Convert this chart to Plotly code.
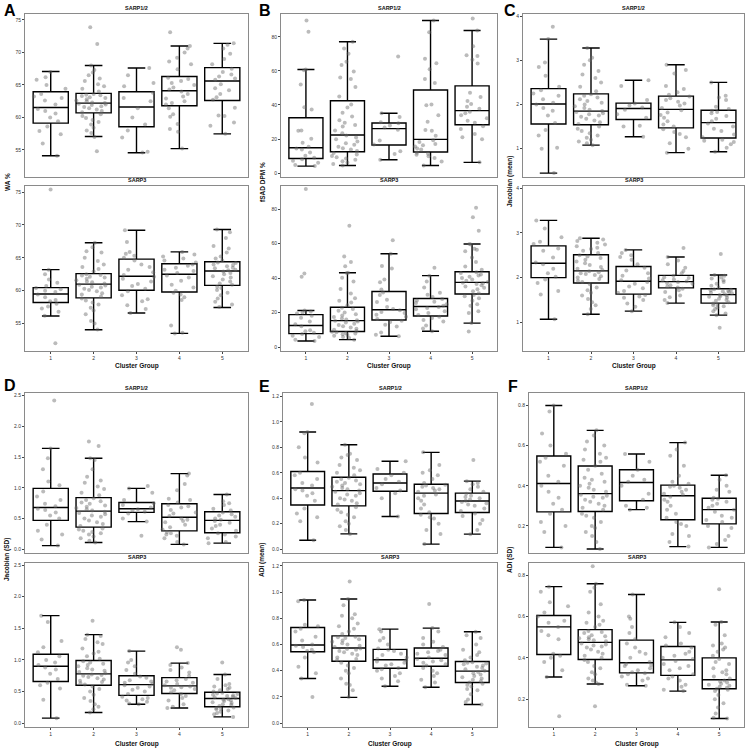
import plotly.graph_objects as go

W, H = 746, 750
groups = [1, 2, 3, 4, 5]
group_labels = ["1", "2", "3", "4", "5"]

# ---------------- Panel A : WA % ----------------
A_top_lo = [54.1, 57.06, 54.55, 55.2, 57.46]
A_top_q1 = [59.12, 60.7, 58.57, 61.8, 62.6]
A_top_med = [61.53, 62.2, 61.6, 64.1, 65.6]
A_top_q3 = [63.94, 63.7, 63.95, 66.3, 67.66]
A_top_hi = [67.06, 68.0, 67.6, 71.0, 71.4]
A_top_pts = [
    [54.1, 56.0, 57.4, 57.9, 58.6, 59.4, 60.0, 60.6, 61.0, 61.3, 62.0, 62.6, 63.0, 63.2, 63.6, 64.4, 65.0, 65.8, 66.2, 67.0],
    [57.0, 57.6, 58.0, 58.4, 58.9, 59.3, 59.6, 59.9, 60.2, 60.5, 60.8, 61.0, 61.2, 61.4, 61.6, 61.7, 61.9, 62.0, 62.1, 62.2,
     62.3, 62.5, 62.6, 62.8, 63.0, 63.1, 63.3, 63.4, 63.5, 63.6, 64.0, 64.4, 64.8, 65.1, 65.6, 66.0, 66.5, 66.9, 67.3, 68.0,
     73.9, 71.3, 54.8],
    [54.6, 54.7, 56.9, 58.0, 58.9, 60.0, 61.4, 62.5, 63.0, 63.8, 64.8, 65.3, 66.5, 67.6],
    [55.2, 57.8, 58.2, 59.0, 60.1, 60.5, 61.4, 62.0, 62.2, 62.5, 62.9, 63.2, 63.6, 64.0, 64.3, 64.6, 65.0, 65.3, 65.6, 65.9,
     66.1, 67.4, 68.2, 68.6, 69.2, 70.0, 70.6, 71.0, 73.1],
    [57.5, 58.7, 59.2, 60.2, 60.3, 61.5, 62.7, 63.1, 63.6, 64.2, 64.5, 65.1, 65.8, 66.0, 66.3, 66.6, 67.0, 67.5, 68.2, 69.0,
     69.8, 70.6, 71.2, 71.4],
]
A_bot_lo = [56.15, 54.05, 56.6, 53.5, 57.45]
A_bot_q1 = [58.2, 58.9, 60.06, 59.8, 60.8]
A_bot_med = [59.5, 61.0, 62.2, 62.5, 63.0]
A_bot_q3 = [60.46, 62.6, 64.8, 64.1, 64.4]
A_bot_hi = [63.2, 67.3, 69.2, 65.9, 69.3]
A_bot_pts = [
    [56.2, 56.8, 57.3, 57.6, 58.0, 58.4, 58.6, 59.0, 59.4, 59.8, 60.0, 60.2, 60.4, 60.7, 61.2, 61.7, 62.5, 63.2, 75.4, 52.0],
    [54.1, 55.0, 55.4, 56.4, 57.0, 57.4, 57.9, 58.2, 58.5, 58.8, 59.1, 59.4, 59.6, 59.9, 60.1, 60.3, 60.5, 60.6, 60.8, 60.9,
     61.1, 61.3, 61.4, 61.6, 61.8, 62.0, 62.1, 62.3, 62.4, 62.5, 62.9, 63.3, 63.6, 64.0, 64.5, 65.0, 65.8, 66.0, 66.6, 67.3],
    [56.6, 57.2, 57.8, 58.4, 58.7, 59.3, 59.9, 60.3, 60.7, 61.0, 61.4, 61.8, 62.1, 62.4, 62.8, 63.2, 63.6, 64.0, 64.6, 65.0,
     65.3, 65.6, 65.9, 67.4, 69.2],
    [53.5, 53.6, 54.7, 58.6, 59.0, 59.4, 59.7, 60.0, 60.5, 60.9, 61.5, 62.0, 62.3, 62.7, 63.0, 63.2, 63.5, 63.8, 64.0, 64.3,
     64.6, 64.9, 65.2, 65.5, 65.9],
    [57.5, 57.9, 58.3, 58.8, 59.3, 59.7, 60.1, 60.4, 60.6, 60.9, 61.1, 61.4, 61.7, 62.0, 62.2, 62.5, 62.7, 62.9, 63.1, 63.2,
     63.4, 63.5, 63.7, 63.9, 64.0, 64.2, 64.3, 64.6, 64.9, 65.2, 65.8, 66.4, 66.8, 68.0, 68.9, 69.3],
]

# ---------------- Panel B : fSAD DPM % ----------------
B_top_lo = [4.1, 4.5, 7.8, 4.5, 6.3]
B_top_q1 = [8.6, 12.5, 16.5, 12.4, 28.4]
B_top_med = [14.9, 22.4, 26.1, 19.8, 36.7]
B_top_q3 = [32.5, 42.5, 29.4, 48.8, 51.2]
B_top_hi = [60.8, 77.1, 35.1, 89.6, 83.7]
B_top_pts = [
    [4.1, 4.8, 6.0, 7.2, 8.1, 9.0, 10.2, 12.1, 13.8, 14.5, 15.5, 17.8, 20.1, 24.8, 25.0, 37.4, 38.6, 52.0, 60.4, 60.8,
     89.6, 83.0],
    [4.5, 5.4, 6.2, 7.0, 7.8, 8.5, 9.3, 10.1, 10.9, 11.8, 13.0, 13.9, 14.6, 15.5, 16.7, 17.5, 18.6, 19.8, 20.9, 22.0,
     23.4, 25.0, 27.3, 28.2, 29.5, 31.0, 33.2, 35.5, 38.5, 40.2, 45.0, 50.5, 55.2, 56.1, 59.7, 63.4, 65.3, 70.0, 73.1, 77.1],
    [7.8, 11.2, 12.8, 16.8, 19.1, 25.5, 26.8, 28.0, 29.2, 29.8, 33.0, 35.1, 68.4],
    [4.5, 6.8, 8.8, 9.9, 10.7, 11.3, 12.0, 13.8, 14.5, 15.6, 16.3, 17.1, 18.2, 19.3, 21.9, 24.8, 25.3, 30.2, 34.0, 39.8,
     40.3, 52.9, 55.3, 61.0, 64.5, 67.2, 82.7, 89.6],
    [6.3, 19.8, 21.0, 22.9, 25.9, 27.5, 29.5, 30.8, 32.2, 34.0, 35.2, 36.0, 37.8, 39.0, 40.5, 42.4, 44.7, 47.2, 64.3, 66.5,
     68.8, 69.2, 74.5, 83.7, 90.8],
]
B_bot_lo = [3.5, 4.3, 6.3, 9.2, 13.9]
B_bot_q1 = [7.8, 9.0, 15.7, 18.0, 30.8]
B_bot_med = [12.5, 15.3, 21.6, 23.5, 37.5]
B_bot_q3 = [18.8, 23.1, 32.2, 28.2, 43.7]
B_bot_hi = [21.2, 43.1, 54.1, 41.4, 59.8]
B_bot_pts = [
    [3.5, 4.2, 5.8, 6.5, 7.5, 8.3, 9.2, 9.8, 12.0, 13.2, 14.8, 17.0, 18.2, 19.5, 20.0, 20.6, 21.2, 91.6, 42.7, 40.8],
    [4.3, 5.2, 5.9, 6.5, 7.0, 7.4, 7.9, 8.2, 8.6, 8.9, 9.3, 10.0, 10.6, 11.3, 12.0, 12.8, 13.5, 14.2, 14.8, 15.2,
     15.6, 16.0, 16.6, 17.4, 18.3, 19.0, 20.1, 21.0, 22.0, 22.8, 24.3, 25.9, 26.9, 28.3, 31.0, 33.6, 38.0, 40.2, 42.9, 43.1,
     70.4, 52.5, 49.4, 46.9],
    [6.3, 7.2, 8.5, 11.9, 13.0, 14.5, 15.3, 16.2, 17.6, 18.8, 19.7, 20.4, 21.3, 22.0, 23.3, 26.2, 27.4, 30.2, 31.6, 33.4,
     37.6, 39.2, 45.5, 47.0, 54.1, 62.0],
    [9.2, 10.8, 12.5, 14.8, 15.7, 16.9, 17.6, 18.6, 19.8, 20.8, 21.9, 22.7, 23.2, 23.9, 24.8, 25.6, 26.3, 27.0, 27.8, 29.0,
     30.4, 31.5, 34.6, 38.0, 41.4, 46.0],
    [13.9, 19.8, 20.8, 23.9, 24.8, 26.9, 28.3, 29.5, 30.2, 31.2, 32.4, 33.5, 34.4, 35.1, 35.9, 36.5, 37.0, 37.3, 37.8, 38.5,
     39.2, 40.0, 40.8, 41.5, 42.1, 42.9, 43.4, 44.8, 46.7, 49.3, 52.0, 55.6, 56.4, 57.0, 59.5, 59.8, 80.8, 75.3, 67.5, 9.0],
]

# ---------------- Panel C : Jacobian (mean) ----------------
C_top_lo = [0.447, 1.08, 1.27, 0.91, 0.93]
C_top_q1 = [1.56, 1.54, 1.66, 1.47, 1.24]
C_top_med = [2.01, 1.85, 1.91, 1.89, 1.59]
C_top_q3 = [2.36, 2.24, 2.03, 2.19, 1.87]
C_top_hi = [3.48, 3.28, 2.55, 2.90, 2.50]
C_top_pts = [
    [0.45, 1.0, 1.02, 1.3, 1.42, 1.58, 1.75, 1.86, 1.92, 2.0, 2.04, 2.12, 2.2, 2.25, 2.32, 2.4, 2.65, 2.85, 2.95, 3.48, 3.76],
    [1.08, 1.12, 1.16, 1.2, 1.25, 1.3, 1.35, 1.4, 1.45, 1.5, 1.56, 1.6, 1.64, 1.68, 1.72, 1.75, 1.78, 1.8, 1.83, 1.85,
     1.88, 1.92, 1.96, 2.0, 2.04, 2.08, 2.12, 2.16, 2.2, 2.23, 2.3, 2.4, 2.5, 2.6, 2.68, 2.76, 2.9, 3.0, 3.06, 3.28],
    [1.27, 1.5, 1.52, 1.7, 1.78, 1.88, 1.93, 1.98, 2.02, 2.1, 2.42, 2.55],
    [0.91, 1.0, 1.12, 1.26, 1.33, 1.38, 1.44, 1.5, 1.55, 1.62, 1.7, 1.76, 1.82, 1.87, 1.92, 1.98, 2.02, 2.06, 2.1, 2.14,
     2.18, 2.22, 2.28, 2.35, 2.42, 2.7, 2.78, 2.9],
    [0.93, 1.02, 1.1, 1.15, 1.18, 1.2, 1.26, 1.32, 1.4, 1.45, 1.5, 1.57, 1.62, 1.68, 1.74, 1.8, 1.83, 1.86, 1.9, 1.95,
     2.1, 2.16, 2.2, 2.5],
]
C_bot_lo = [1.07, 1.18, 1.25, 1.43, 1.16]
C_bot_q1 = [2.0, 1.88, 1.63, 1.77, 1.43]
C_bot_med = [2.32, 2.15, 1.92, 1.91, 1.62]
C_bot_q3 = [2.71, 2.51, 2.25, 2.05, 1.75]
C_bot_hi = [3.28, 2.88, 2.62, 2.46, 2.06]
C_bot_pts = [
    [1.07, 1.62, 1.7, 1.88, 1.96, 2.02, 2.1, 2.2, 2.3, 2.34, 2.45, 2.6, 2.65, 2.75, 2.8, 2.9, 3.1, 3.28],
    [1.18, 1.3, 1.38, 1.45, 1.52, 1.6, 1.66, 1.72, 1.78, 1.85, 1.9, 1.93, 1.97, 2.0, 2.03, 2.06, 2.08, 2.1, 2.12, 2.14,
     2.17, 2.2, 2.24, 2.28, 2.32, 2.36, 2.4, 2.44, 2.47, 2.5, 2.55, 2.6, 2.64, 2.67, 2.7, 2.74, 2.78, 2.82, 2.85, 2.88],
    [1.25, 1.35, 1.42, 1.5, 1.55, 1.58, 1.61, 1.66, 1.7, 1.76, 1.8, 1.86, 1.9, 1.94, 1.98, 2.04, 2.1, 2.16, 2.22, 2.3,
     2.4, 2.46, 2.5, 2.55, 2.62],
    [1.43, 1.5, 1.56, 1.6, 1.68, 1.72, 1.75, 1.78, 1.8, 1.83, 1.86, 1.88, 1.9, 1.92, 1.94, 1.96, 1.99, 2.01, 2.04, 2.1,
     2.15, 2.22, 2.3, 2.38, 2.46, 2.66],
    [1.16, 1.2, 1.25, 1.3, 1.33, 1.36, 1.38, 1.4, 1.42, 1.45, 1.48, 1.5, 1.53, 1.55, 1.57, 1.59, 1.6, 1.61, 1.63, 1.65,
     1.66, 1.68, 1.69, 1.7, 1.72, 1.73, 1.74, 1.78, 1.82, 1.86, 1.9, 1.94, 1.98, 2.0, 2.04, 2.06, 2.53, 0.88],
]

# ---------------- Panel D : Jacobian (SD) ----------------
D_top_lo = [0.06, 0.11, 0.45, 0.08, 0.10]
D_top_q1 = [0.47, 0.36, 0.60, 0.30, 0.27]
D_top_med = [0.68, 0.62, 0.66, 0.52, 0.47]
D_top_q3 = [0.99, 0.84, 0.76, 0.74, 0.61]
D_top_hi = [1.64, 1.48, 0.99, 1.23, 0.89]
D_top_pts = [
    [0.06, 0.16, 0.24, 0.3, 0.4, 0.5, 0.55, 0.6, 0.64, 0.66, 0.7, 0.74, 0.8, 0.86, 0.94, 1.04, 1.1, 1.3, 1.48, 1.64, 2.42],
    [0.11, 0.14, 0.18, 0.21, 0.24, 0.26, 0.28, 0.3, 0.32, 0.34, 0.38, 0.41, 0.44, 0.47, 0.5, 0.53, 0.55, 0.57, 0.59, 0.61,
     0.63, 0.65, 0.67, 0.69, 0.71, 0.74, 0.76, 0.78, 0.8, 0.83, 0.88, 0.92, 0.98, 1.02, 1.08, 1.12, 1.18, 1.3, 1.45, 1.48,
     1.75, 1.68],
    [0.45, 0.5, 0.58, 0.61, 0.63, 0.65, 0.68, 0.72, 0.75, 0.8, 0.92, 0.99, 1.03, 0.22],
    [0.08, 0.12, 0.18, 0.22, 0.24, 0.26, 0.28, 0.32, 0.36, 0.4, 0.44, 0.46, 0.48, 0.5, 0.54, 0.58, 0.6, 0.64, 0.68, 0.7,
     0.72, 0.76, 0.8, 0.82, 0.96, 1.06, 1.2, 1.23],
    [0.1, 0.12, 0.18, 0.21, 0.24, 0.26, 0.3, 0.34, 0.38, 0.4, 0.43, 0.46, 0.48, 0.5, 0.53, 0.55, 0.57, 0.6, 0.63, 0.66,
     0.72, 0.75, 0.78, 0.89],
]
D_bot_lo = [0.08, 0.17, 0.30, 0.24, 0.10]
D_bot_q1 = [0.66, 0.60, 0.44, 0.47, 0.26]
D_bot_med = [0.90, 0.78, 0.61, 0.59, 0.39]
D_bot_q3 = [1.09, 0.99, 0.75, 0.72, 0.49]
D_bot_hi = [1.70, 1.40, 1.14, 0.95, 0.77]
D_bot_pts = [
    [0.08, 0.37, 0.55, 0.6, 0.64, 0.7, 0.78, 0.85, 0.88, 0.92, 0.96, 1.0, 1.06, 1.12, 1.2, 1.3, 1.6, 1.7],
    [0.17, 0.22, 0.26, 0.3, 0.35, 0.4, 0.45, 0.5, 0.54, 0.58, 0.61, 0.63, 0.65, 0.67, 0.69, 0.71, 0.73, 0.75, 0.76, 0.77,
     0.79, 0.81, 0.83, 0.85, 0.87, 0.9, 0.92, 0.94, 0.96, 0.98, 1.02, 1.06, 1.1, 1.13, 1.18, 1.25, 1.28, 1.33, 1.38, 1.4,
     1.62],
    [0.3, 0.31, 0.34, 0.36, 0.38, 0.4, 0.42, 0.46, 0.5, 0.53, 0.56, 0.58, 0.6, 0.62, 0.64, 0.66, 0.68, 0.72, 0.74, 0.78,
     0.84, 0.9, 0.96, 1.0, 1.14],
    [0.24, 0.26, 0.3, 0.36, 0.4, 0.43, 0.46, 0.49, 0.52, 0.54, 0.56, 0.57, 0.58, 0.6, 0.62, 0.64, 0.66, 0.68, 0.7, 0.75,
     0.8, 0.84, 0.88, 0.92, 0.95, 1.2, 1.16],
    [0.1, 0.14, 0.16, 0.18, 0.2, 0.22, 0.23, 0.24, 0.25, 0.27, 0.29, 0.3, 0.32, 0.33, 0.35, 0.36, 0.37, 0.38, 0.4, 0.41,
     0.42, 0.43, 0.44, 0.45, 0.46, 0.47, 0.48, 0.5, 0.52, 0.54, 0.56, 0.58, 0.6, 0.62, 0.7, 0.77, 0.96],
]

# ---------------- Panel E : ADI (mean) ----------------
E_top_lo = [0.07, 0.12, 0.257, 0.04, 0.118]
E_top_q1 = [0.347, 0.34, 0.455, 0.28, 0.288]
E_top_med = [0.48, 0.46, 0.52, 0.44, 0.378]
E_top_q3 = [0.61, 0.565, 0.59, 0.51, 0.44]
E_top_hi = [0.92, 0.82, 0.69, 0.76, 0.534]
E_top_pts = [
    [0.07, 0.22, 0.25, 0.28, 0.32, 0.38, 0.42, 0.44, 0.46, 0.47, 0.5, 0.52, 0.55, 0.58, 0.6, 0.68, 0.72, 0.8, 0.91, 0.92,
     1.14],
    [0.12, 0.15, 0.18, 0.2, 0.22, 0.25, 0.27, 0.29, 0.31, 0.33, 0.35, 0.36, 0.38, 0.39, 0.4, 0.42, 0.43, 0.44, 0.45, 0.46,
     0.47, 0.48, 0.49, 0.5, 0.51, 0.52, 0.53, 0.54, 0.55, 0.56, 0.58, 0.6, 0.62, 0.64, 0.66, 0.7, 0.72, 0.74, 0.75, 0.82],
    [0.257, 0.4, 0.44, 0.46, 0.48, 0.51, 0.53, 0.55, 0.58, 0.6, 0.63, 0.69],
    [0.04, 0.12, 0.15, 0.2, 0.24, 0.25, 0.27, 0.29, 0.32, 0.35, 0.38, 0.4, 0.42, 0.43, 0.45, 0.46, 0.47, 0.48, 0.49, 0.5,
     0.505, 0.52, 0.55, 0.58, 0.6, 0.62, 0.66, 0.76],
    [0.118, 0.15, 0.2, 0.23, 0.26, 0.28, 0.3, 0.32, 0.34, 0.35, 0.36, 0.37, 0.38, 0.39, 0.4, 0.41, 0.42, 0.435, 0.45, 0.47,
     0.49, 0.51, 0.52, 0.534, 0.7],
]
E_bot_lo = [0.34, 0.196, 0.281, 0.274, 0.142]
E_bot_q1 = [0.545, 0.472, 0.418, 0.434, 0.31]
E_bot_med = [0.596, 0.573, 0.483, 0.495, 0.397]
E_bot_q3 = [0.73, 0.666, 0.563, 0.573, 0.47]
E_bot_hi = [0.94, 0.947, 0.717, 0.725, 0.697]
E_bot_pts = [
    [0.34, 0.38, 0.43, 0.5, 0.54, 0.55, 0.56, 0.58, 0.59, 0.6, 0.63, 0.66, 0.7, 0.72, 0.74, 0.75, 0.93, 0.94, 0.2],
    [0.2, 0.25, 0.29, 0.3, 0.34, 0.38, 0.4, 0.42, 0.44, 0.46, 0.48, 0.49, 0.5, 0.52, 0.53, 0.54, 0.55, 0.56, 0.565, 0.57,
     0.58, 0.59, 0.6, 0.61, 0.62, 0.63, 0.64, 0.65, 0.655, 0.66, 0.68, 0.7, 0.72, 0.74, 0.76, 0.8, 0.82, 0.83, 0.9, 0.947,
     1.08],
    [0.281, 0.32, 0.34, 0.36, 0.38, 0.4, 0.41, 0.42, 0.44, 0.45, 0.46, 0.47, 0.48, 0.49, 0.5, 0.52, 0.53, 0.55, 0.56, 0.57,
     0.6, 0.63, 0.65, 0.7, 0.717],
    [0.274, 0.31, 0.33, 0.36, 0.38, 0.4, 0.42, 0.44, 0.45, 0.46, 0.47, 0.48, 0.49, 0.5, 0.52, 0.53, 0.54, 0.55, 0.56, 0.58,
     0.6, 0.62, 0.65, 0.7, 0.725, 0.91],
    [0.142, 0.16, 0.18, 0.22, 0.25, 0.26, 0.28, 0.29, 0.3, 0.31, 0.32, 0.33, 0.34, 0.35, 0.36, 0.37, 0.38, 0.39, 0.4, 0.41,
     0.42, 0.43, 0.44, 0.45, 0.455, 0.46, 0.465, 0.48, 0.5, 0.52, 0.54, 0.56, 0.6, 0.65, 0.67, 0.697],
]

# ---------------- Panel F : ADI (SD) ----------------
F_top_lo = [0.093, 0.085, 0.281, 0.097, 0.093]
F_top_q1 = [0.27, 0.272, 0.325, 0.231, 0.21]
F_top_med = [0.411, 0.361, 0.416, 0.35, 0.281]
F_top_q3 = [0.548, 0.498, 0.48, 0.403, 0.338]
F_top_hi = [0.80, 0.676, 0.558, 0.615, 0.452]
F_top_pts = [
    [0.093, 0.17, 0.2, 0.22, 0.26, 0.28, 0.31, 0.34, 0.37, 0.4, 0.42, 0.45, 0.5, 0.52, 0.54, 0.56, 0.6, 0.66, 0.77, 0.8],
    [0.085, 0.12, 0.15, 0.17, 0.19, 0.2, 0.22, 0.24, 0.25, 0.26, 0.28, 0.29, 0.3, 0.31, 0.32, 0.33, 0.34, 0.345, 0.35, 0.355,
     0.37, 0.38, 0.39, 0.4, 0.41, 0.42, 0.43, 0.44, 0.46, 0.48, 0.5, 0.52, 0.53, 0.54, 0.56, 0.58, 0.6, 0.62, 0.65, 0.676],
    [0.281, 0.29, 0.3, 0.33, 0.36, 0.4, 0.42, 0.43, 0.45, 0.48, 0.52, 0.558],
    [0.097, 0.12, 0.15, 0.16, 0.2, 0.21, 0.22, 0.24, 0.26, 0.28, 0.3, 0.32, 0.33, 0.345, 0.355, 0.36, 0.37, 0.38, 0.39, 0.395,
     0.4, 0.41, 0.42, 0.45, 0.5, 0.55, 0.58, 0.615],
    [0.093, 0.11, 0.13, 0.15, 0.19, 0.2, 0.22, 0.23, 0.24, 0.25, 0.27, 0.28, 0.29, 0.3, 0.31, 0.32, 0.33, 0.335, 0.34, 0.37,
     0.38, 0.4, 0.43, 0.452],
]
F_bot_lo = [0.307, 0.273, 0.265, 0.239, 0.106]
F_bot_q1 = [0.416, 0.392, 0.327, 0.315, 0.25]
F_bot_med = [0.55, 0.475, 0.376, 0.39, 0.294]
F_bot_q3 = [0.605, 0.537, 0.486, 0.455, 0.40]
F_bot_hi = [0.745, 0.759, 0.707, 0.572, 0.574]
F_bot_pts = [
    [0.307, 0.34, 0.38, 0.4, 0.41, 0.42, 0.49, 0.51, 0.53, 0.55, 0.57, 0.58, 0.6, 0.62, 0.65, 0.67, 0.72, 0.745, 0.117],
    [0.273, 0.28, 0.29, 0.3, 0.32, 0.33, 0.35, 0.36, 0.38, 0.39, 0.4, 0.41, 0.42, 0.43, 0.44, 0.45, 0.455, 0.46, 0.465, 0.47,
     0.48, 0.485, 0.49, 0.495, 0.5, 0.505, 0.51, 0.52, 0.525, 0.53, 0.55, 0.56, 0.57, 0.58, 0.6, 0.62, 0.66, 0.72, 0.74,
     0.759, 0.844, 0.165],
    [0.265, 0.27, 0.29, 0.3, 0.31, 0.32, 0.325, 0.33, 0.34, 0.35, 0.36, 0.365, 0.37, 0.38, 0.4, 0.42, 0.43, 0.45, 0.47,
     0.49, 0.52, 0.55, 0.59, 0.6, 0.707],
    [0.239, 0.245, 0.26, 0.27, 0.29, 0.3, 0.31, 0.32, 0.34, 0.35, 0.36, 0.37, 0.385, 0.395, 0.4, 0.41, 0.42, 0.43, 0.45,
     0.46, 0.47, 0.5, 0.52, 0.55, 0.572],
    [0.106, 0.11, 0.13, 0.16, 0.18, 0.2, 0.22, 0.24, 0.245, 0.25, 0.255, 0.26, 0.265, 0.27, 0.275, 0.28, 0.285, 0.29, 0.3,
     0.31, 0.32, 0.33, 0.34, 0.35, 0.37, 0.38, 0.395, 0.41, 0.43, 0.44, 0.45, 0.46, 0.47, 0.51, 0.56, 0.574, 0.733],
]

panel_letters = ["A", "B", "C", "D", "E", "F"]
y_titles = ["WA %", "fSAD DPM %", "Jacobian (mean)", "Jacobian (SD)", "ADI (mean)", "ADI (SD)"]
y_ranges = [[50.9, 76.0], [-2.0, 93.7], [0.37, 4.06], [-0.06, 2.54], [-0.03, 1.226], [0.065, 0.862]]
y_ticks = [[55, 60, 65, 70, 75], [0, 20, 40, 60, 80], [1, 2, 3, 4],
           [0.0, 0.5, 1.0, 1.5, 2.0, 2.5], [0.0, 0.2, 0.4, 0.6, 0.8, 1.0, 1.2], [0.2, 0.4, 0.6, 0.8]]
y_fmt = ["d", "d", "d", ".1f", ".1f", ".1f"]
facet_titles = ["SARP1/2", "SARP3"]

panel_stats = [
    [(A_top_lo, A_top_q1, A_top_med, A_top_q3, A_top_hi, A_top_pts),
     (A_bot_lo, A_bot_q1, A_bot_med, A_bot_q3, A_bot_hi, A_bot_pts)],
    [(B_top_lo, B_top_q1, B_top_med, B_top_q3, B_top_hi, B_top_pts),
     (B_bot_lo, B_bot_q1, B_bot_med, B_bot_q3, B_bot_hi, B_bot_pts)],
    [(C_top_lo, C_top_q1, C_top_med, C_top_q3, C_top_hi, C_top_pts),
     (C_bot_lo, C_bot_q1, C_bot_med, C_bot_q3, C_bot_hi, C_bot_pts)],
    [(D_top_lo, D_top_q1, D_top_med, D_top_q3, D_top_hi, D_top_pts),
     (D_bot_lo, D_bot_q1, D_bot_med, D_bot_q3, D_bot_hi, D_bot_pts)],
    [(E_top_lo, E_top_q1, E_top_med, E_top_q3, E_top_hi, E_top_pts),
     (E_bot_lo, E_bot_q1, E_bot_med, E_bot_q3, E_bot_hi, E_bot_pts)],
    [(F_top_lo, F_top_q1, F_top_med, F_top_q3, F_top_hi, F_top_pts),
     (F_bot_lo, F_bot_q1, F_bot_med, F_bot_q3, F_bot_hi, F_bot_pts)],
]

# ---------------- layout geometry (pixels) ----------------
x_dom_px = [(25, 248), (281, 497), (523, 744), (25, 248), (283, 497), (529, 744)]
y_dom_px = [((13.5, 176.5), (185.5, 350.5)), ((393, 553), (562.5, 727))]
ytitle_x_px = [7, 262, 510, 7, 262, 510]
letter_pos_px = [(2, 0), (257, 0), (502, 0), (2, 375), (257, 376), (506, 376)]
xtitle_y_px = [366, 744]
row_mid_px = [182, 560]

FONT = "Liberation Sans, Arial, sans-serif"


def px_x(v):
    return v / W


def px_y(v):
    return 1 - v / H


fig = go.Figure()
layout = dict(
    width=W, height=H, margin=dict(l=0, r=0, t=0, b=0),
    paper_bgcolor="white", plot_bgcolor="white", showlegend=False,
    font=dict(family=FONT, color="#222"), boxmode="overlay",
)
annotations = []

for pi in range(6):
    row = pi // 3
    x0, x1 = x_dom_px[pi]
    for s in range(2):
        k = pi * 2 + s + 1
        xa = "x" if k == 1 else f"x{k}"
        ya = "y" if k == 1 else f"y{k}"
        lo, q1, med, q3, hi, pts = panel_stats[pi][s]
        fig.add_trace(go.Box(
            x=groups, lowerfence=lo, q1=q1, median=med, q3=q3, upperfence=hi,
            boxpoints=False, width=0.82, whiskerwidth=0.5,
            fillcolor="white", line=dict(color="black", width=1.4),
            xaxis=xa, yaxis=ya, hoverinfo="skip",
        ))
        xs, ys = [], []
        for g, p in zip(groups, pts):
            xs += [g] * len(p)
            ys += p
        fig.add_trace(go.Box(
            x=xs, y=ys, boxpoints="all", jitter=1.0, pointpos=0, width=0.82,
            fillcolor="rgba(0,0,0,0)", line=dict(color="rgba(0,0,0,0)", width=0),
            marker=dict(color="rgba(105,105,105,0.45)", size=4, line=dict(width=0)),
            xaxis=xa, yaxis=ya, hoveron="points",
        ))
        (ya0, ya1) = y_dom_px[row][s]
        layout["xaxis" if k == 1 else f"xaxis{k}"] = dict(
            domain=[px_x(x0), px_x(x1)], range=[0.4, 5.6], anchor=ya,
            tickmode="array", tickvals=groups, ticktext=group_labels,
            showticklabels=(s == 1), ticks="outside" if s == 1 else "",
            ticklen=2, tickwidth=0.8, tickcolor="#444",
            tickfont=dict(size=5, color="#333", family=FONT),
            showline=True, mirror=True, linecolor="#8a8a8a", linewidth=1,
            showgrid=False, zeroline=False, fixedrange=True,
        )
        layout["yaxis" if k == 1 else f"yaxis{k}"] = dict(
            domain=[px_y(ya1), px_y(ya0)], range=y_ranges[pi], anchor=xa,
            tickmode="array", tickvals=y_ticks[pi], tickformat=y_fmt[pi],
            ticks="outside", ticklen=2, tickwidth=0.8, tickcolor="#444",
            tickfont=dict(size=5, color="#333", family=FONT),
            showline=True, mirror=True, linecolor="#8a8a8a", linewidth=1,
            showgrid=False, zeroline=False, fixedrange=True,
        )
        annotations.append(dict(
            x=px_x((x0 + x1) / 2), y=px_y(ya0 - 0.5), xref="paper", yref="paper",
            text=f"<b>{facet_titles[s]}</b>", showarrow=False, xanchor="center", yanchor="bottom",
            font=dict(size=5.5, color="#111", family=FONT),
        ))
    annotations.append(dict(
        x=px_x(ytitle_x_px[pi]), y=px_y(row_mid_px[row]), xref="paper", yref="paper",
        text=f"<b>{y_titles[pi]}</b>", showarrow=False, textangle=-90,
        xanchor="center", yanchor="middle", font=dict(size=6.5, color="#111", family=FONT),
    ))
    annotations.append(dict(
        x=px_x((x0 + x1) / 2), y=px_y(xtitle_y_px[row]), xref="paper", yref="paper",
        text="<b>Cluster Group</b>", showarrow=False, xanchor="center", yanchor="middle",
        font=dict(size=6.5, color="#111", family=FONT),
    ))
    lx, ly = letter_pos_px[pi]
    annotations.append(dict(
        x=px_x(lx), y=px_y(ly), xref="paper", yref="paper",
        text=f"<b>{panel_letters[pi]}</b>", showarrow=False, xanchor="left", yanchor="top",
        font=dict(size=16, color="black", family=FONT),
    ))

layout["annotations"] = annotations
fig.update_layout(**layout)
fig.write_html(
    "out.html",
    config={"displayModeBar": False},
    post_script="document.body.style.margin='0';document.body.style.padding='0';",
)
